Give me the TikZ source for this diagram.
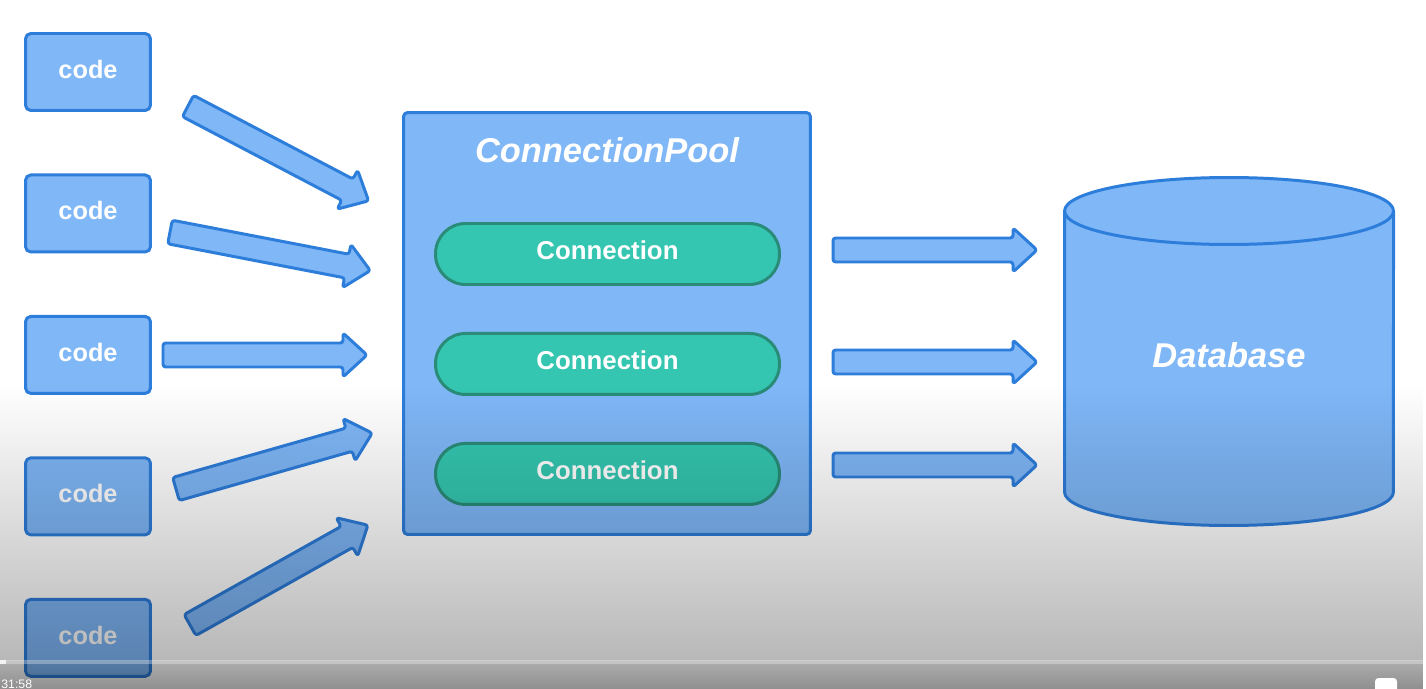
\documentclass[tikz,border=0pt]{standalone}
\usepackage{fontspec}
\setmainfont{Liberation Sans}
\usepackage{tikz}
\usetikzlibrary{positioning,fadings}

\definecolor{boxblue}{HTML}{7FB7F7}
\definecolor{edgeblue}{HTML}{2D7DDB}
\definecolor{connteal}{HTML}{34C6B0}
\definecolor{edgeteal}{HTML}{2A8C78}

\tikzfading[name=fadedark,top color=transparent!100,bottom color=transparent!72]
\tikzfading[name=fadebar,top color=transparent!68,bottom color=transparent!56]

\begin{document}
\begin{tikzpicture}[x=0.02cm,y=-0.02cm,line join=round,
  codebox/.style={draw=edgeblue,fill=boxblue,line width=1.7pt,rounded corners=3pt,minimum width=2.5cm,minimum height=1.54cm,inner sep=0pt,text depth=0.12cm,text=white,font=\fontsize{14.4}{17}\selectfont\bfseries},
  poolbox/.style={draw=edgeblue,fill=boxblue,line width=1.7pt,rounded corners=2.3pt,minimum width=8.14cm,minimum height=8.44cm,inner sep=0pt},
  connbox/.style={draw=edgeteal,fill=connteal,line width=1.7pt,rounded corners=0.6cm,minimum width=6.88cm,minimum height=1.22cm,inner sep=0pt,text depth=0.14cm,text=white,font=\fontsize{14.7}{17}\selectfont\bfseries},
  bigtitle/.style={text=white,inner sep=0pt,font=\fontsize{19.6}{23}\selectfont\bfseries\itshape},
  blkarrow/.pic={\draw[draw=edgeblue,fill=boxblue,line width=1.7pt,rounded corners=1.5pt]
    (0,-12) -- (180,-12) -- (180,-22) -- (204,0) -- (180,22) -- (180,12) -- (0,12) -- cycle;}]
\fill[white] (0,0) rectangle (1426,689);
\useasboundingbox (0,0) rectangle (1426,689);
\clip (0,0) rectangle (1426,689);

% callers
\node[codebox] (code1) at (88,72) {code};
\node[codebox,below=1.23cm of code1] (code2) {code};
\node[codebox,below=1.23cm of code2] (code3) {code};
\node[codebox,below=1.23cm of code3] (code4) {code};
\node[codebox,below=1.23cm of code4] (code5) {code};

% pool with its connections
\node[poolbox] (pool) at (607,323.5) {};
\node[bigtitle] (pooltitle) at (607,150) {ConnectionPool};
\node[connbox] (conn1) at (607.5,254) {Connection};
\node[connbox,below=0.92cm of conn1] (conn2) {Connection};
\node[connbox,below=0.92cm of conn2] (conn3) {Connection};

% database
\draw[edgeblue,fill=boxblue,line width=1.7pt] (1064.5,211) -- (1064.5,492)
  arc[start angle=180,end angle=360,x radius=3.29cm,y radius=0.67cm] -- (1393.5,211);
\draw[edgeblue,fill=boxblue,line width=1.7pt] (1229,211) ellipse[x radius=3.29cm,y radius=0.67cm];
\node[bigtitle] (db) at (1229,355) {Database};

% block arrows
\coordinate (in1) at (188,106);
\coordinate (in2) at (170,232);
\coordinate (in3) at (163,355);
\coordinate (in4) at (176,489);
\coordinate (in5) at (190,625);
\pic[rotate=-27.7] at (in1) {blkarrow};
\pic[rotate=-10.9] at (in2) {blkarrow};
\pic at (in3) {blkarrow};
\pic[rotate=15.9] at (in4) {blkarrow};
\pic[rotate=29.3] at (in5) {blkarrow};
\coordinate (out1) at (833,250);
\coordinate (out2) at (833,362);
\coordinate (out3) at (833,465);
\foreach \o in {out1,out2,out3}
  \pic at (\o) {blkarrow};

% video player overlay
\fill[black,path fading=fadedark] (0,385) rectangle (1426,661);
\fill[black,path fading=fadebar] (0,661) rectangle (1426,689);
\fill[white,opacity=0.3] (0,660) rectangle (1426,664);
\fill[white,opacity=0.8] (0,660) rectangle (6,664);
\node[anchor=base west,inner sep=0pt,text=white,font=\fontsize{7}{8}\selectfont] (clock) at (1,688) {31:58};
\fill[white,rounded corners=2pt] (1375,678) rectangle (1397,700);
\end{tikzpicture}
\end{document}
